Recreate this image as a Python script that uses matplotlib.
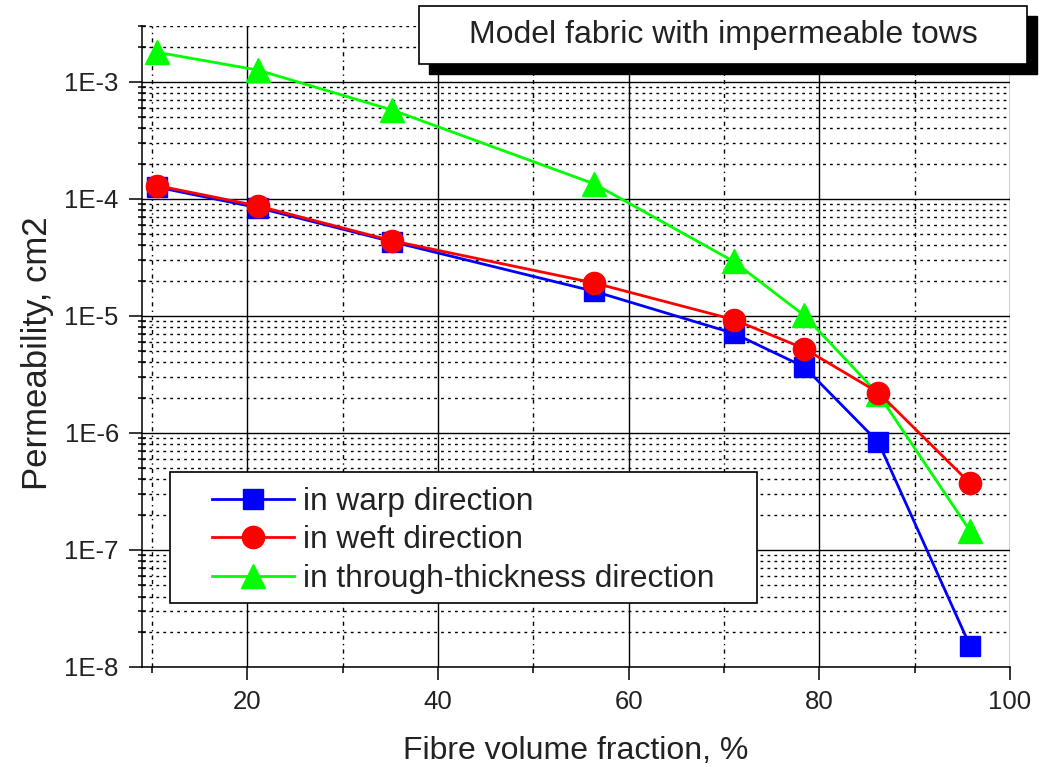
import numpy as np
import matplotlib
matplotlib.use('Agg')
import matplotlib.pyplot as plt
from matplotlib.patches import Rectangle
from matplotlib.ticker import MultipleLocator, LogLocator, NullFormatter, FuncFormatter

plt.rcParams['font.family'] = ['Liberation Sans', 'DejaVu Sans']

# fibre volume fraction, %
fibreFraction = [10.5, 21.1, 35.2, 56.4, 71.0, 78.4, 86.2, 95.8]

# permeability, cm2
warpPerm = [1.26e-4, 8.4e-5, 4.3e-5, 1.62e-5, 7.1e-6, 3.67e-6, 8.3e-7, 1.52e-8]
weftPerm = [1.30e-4, 8.7e-5, 4.38e-5, 1.91e-5, 9.3e-6, 5.26e-6, 2.21e-6, 3.72e-7]
thicknessPerm = [1.79e-3, 1.26e-3, 5.74e-4, 1.34e-4, 2.92e-5, 1.01e-5, 2.14e-6, 1.46e-7]

seriesLabels = ['in warp direction', 'in weft direction', 'in through-thickness direction']
titleText = 'Model fabric with impermeable tows'
textColor = '#222222'

fig = plt.figure(figsize=(10.51, 7.67), dpi=100)
ax = fig.add_axes([0.1348, 0.1304, 0.8262, 0.8357])

# the series (weft drawn on top, like in the original)
warpLine, = ax.plot(fibreFraction, warpPerm, color='#0000ff', lw=2.0, marker='s', ms=14,
                    label=seriesLabels[0], zorder=5)
thickLine, = ax.plot(fibreFraction, thicknessPerm, color='#00ff00', lw=2.0, marker='^', ms=17,
                     label=seriesLabels[2], zorder=4)
weftLine, = ax.plot(fibreFraction, weftPerm, color='#ff0000', lw=2.0, marker='o', ms=16,
                    label=seriesLabels[1], zorder=6)

ax.set_yscale('log')
ax.set_xlim(8.9, 100)
ax.set_ylim(1e-8, 3e-3)

# ticks
ax.xaxis.set_major_locator(MultipleLocator(20))
ax.xaxis.set_minor_locator(MultipleLocator(10))
ax.yaxis.set_major_locator(LogLocator(base=10, numticks=20))
ax.yaxis.set_minor_locator(LogLocator(base=10, subs=range(2, 10), numticks=20))
ax.yaxis.set_minor_formatter(NullFormatter())
ax.yaxis.set_major_formatter(FuncFormatter(lambda v, p: '1E%d' % round(np.log10(v))))

ax.tick_params(which='major', direction='out', length=9.5, width=1.1, labelsize=18.5,
               labelcolor=textColor, pad=7)
ax.tick_params(axis='x', which='minor', direction='out', length=4.5, width=1.1)
ax.tick_params(axis='y', which='minor', direction='inout', length=6, width=1.1)

for side in ['top', 'right']:
    ax.spines[side].set_visible(False)
for side in ['left', 'bottom']:
    ax.spines[side].set_linewidth(1.1)

# grid
ax.grid(which='major', color='black', lw=1.0, ls='-')
ax.grid(which='minor', axis='y', color='black', lw=1.0, ls=(0, (2, 3)))
ax.grid(which='minor', axis='x', color='black', lw=1.0, ls=(0, (3, 3, 1, 3)))

# axis labels
ax.set_xlabel('Fibre volume fraction, %', fontsize=23, color=textColor)
ax.set_ylabel('Permeability, cm2', fontsize=25, color=textColor)
ax.xaxis.set_label_coords(0.5, -0.107)
ax.yaxis.set_label_coords(-0.101, 0.49)

# legend with its own white frame
ax.add_patch(Rectangle((0.0321, 0.1003), 0.6765, 0.2044, transform=ax.transAxes,
                       facecolor='white', edgecolor='black', lw=1.2, zorder=7))
leg = ax.legend(handles=[warpLine, weftLine, thickLine], frameon=False, loc='upper left',
                bbox_to_anchor=(0.0806, 0.281), borderaxespad=0, borderpad=0,
                handlelength=2.6, handletextpad=0.3, labelspacing=0.27, numpoints=1,
                prop={'size': 22.8})
leg.set_zorder(8)
for txt in leg.get_texts():
    txt.set_color(textColor)

# title box with drop shadow
boxX, boxY, boxW, boxH = 0.3987, 0.9166, 0.5785, 0.0756
fig.patches.append(Rectangle((boxX + 0.0095, boxY - 0.013), boxW, boxH, transform=fig.transFigure,
                             facecolor='black', edgecolor='black', zorder=9))
fig.patches.append(Rectangle((boxX, boxY), boxW, boxH, transform=fig.transFigure,
                             facecolor='white', edgecolor='black', lw=1.2, zorder=10))
fig.text(boxX + boxW / 2, boxY + boxH / 2, titleText, fontsize=23, color=textColor,
         ha='center', va='center', zorder=11)

fig.savefig('out.png', dpi=100)
